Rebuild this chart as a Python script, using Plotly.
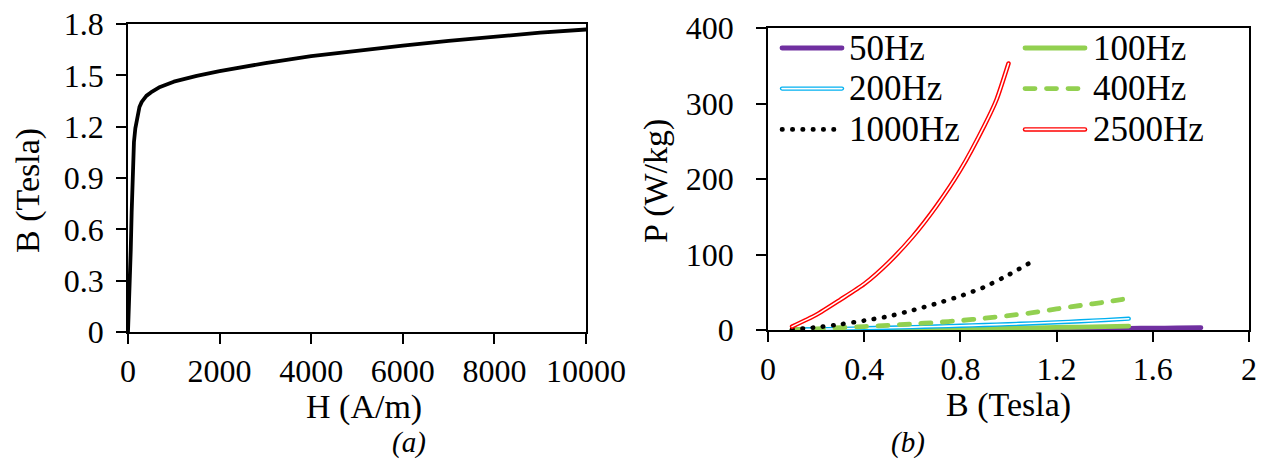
import plotly.graph_objects as go

# ---------------- data ----------------
# (a) B-H magnetisation curve
H_am = [0, 20, 40, 60, 80, 100, 130, 160, 200, 250, 300, 400, 500, 700, 1000,
        1500, 2000, 3000, 4000, 5000, 6000, 7000, 8000, 9000, 10000]
B_tesla = [0, 0.12, 0.28, 0.48, 0.70, 0.90, 1.11, 1.19, 1.26, 1.315, 1.345, 1.38, 1.40, 1.432, 1.463,
           1.497, 1.524, 1.572, 1.612, 1.645, 1.674, 1.702, 1.728, 1.749, 1.768]

# (b) core loss curves
B_50 = [0.1, 0.2, 0.3, 0.4, 0.5, 0.6, 0.7, 0.8, 0.9, 1.0, 1.1, 1.2, 1.3, 1.4, 1.5, 1.6, 1.7, 1.8]
P_50 = [0.02, 0.06, 0.12, 0.2, 0.3, 0.42, 0.55, 0.7, 0.86, 1.03, 1.22, 1.42, 1.65, 1.9, 2.15, 2.45, 2.75, 3.1]
B_100 = [0.1, 0.2, 0.3, 0.4, 0.5, 0.6, 0.7, 0.8, 0.9, 1.0, 1.1, 1.2, 1.3, 1.4, 1.5]
P_100 = [0.05, 0.15, 0.3, 0.5, 0.75, 1.0, 1.3, 1.65, 2.0, 2.4, 2.85, 3.35, 3.9, 4.5, 5.2]
B_200 = [0.1, 0.2, 0.3, 0.4, 0.5, 0.6, 0.7, 0.8, 0.9, 1.0, 1.1, 1.2, 1.3, 1.4, 1.5]
P_200 = [0.5, 1.0, 1.6, 2.3, 3.0, 3.8, 4.7, 5.6, 6.6, 7.7, 8.9, 10.2, 11.6, 13.2, 15.0]
B_400 = [0.1, 0.2, 0.3, 0.4, 0.5, 0.6, 0.7, 0.8, 0.9, 1.0, 1.1, 1.2, 1.3, 1.4, 1.5]
P_400 = [0.5, 1.5, 3.0, 4.6, 6.2, 8.0, 10.0, 12.5, 15.5, 19.0, 23.0, 28.0, 32.5, 37.0, 42.0]
B_1000 = [0.1, 0.2, 0.3, 0.4, 0.5, 0.6, 0.7, 0.8, 0.9, 1.0, 1.1]
P_1000 = [1.0, 3.5, 7.5, 12.5, 18, 26, 35, 45, 57, 73, 91]
B_2500 = [0.1, 0.2, 0.3, 0.4, 0.5, 0.6, 0.7, 0.8, 0.9, 0.95, 1.0]
P_2500 = [4.5, 20, 40, 61, 89, 123, 164, 212, 271, 305, 353]

series_names = ["50Hz", "100Hz", "200Hz", "400Hz", "1000Hz", "2500Hz"]

# ---------------- styling ----------------
W, H = 1270, 461
FONT = "Liberation Serif, Times New Roman, serif"
PURPLE = "#7030A0"
GREEN = "#92D050"
BLUE = "#00B0F0"
RED = "#FF0000"


def px(x):
    return x / W


def py(y):
    return 1 - y / H


fig = go.Figure()

# (a)
fig.add_trace(go.Scatter(x=H_am, y=B_tesla, mode="lines", line=dict(color="black", width=3.8),
                         xaxis="x", yaxis="y", showlegend=False))

# (b)  (dash patterns assume round line caps, set after drawing)
styles = {
    "50Hz": dict(color=PURPLE, width=4.8),
    "100Hz": dict(color=GREEN, width=4.8),
    "200Hz": dict(color=BLUE, width=4.3),
    "400Hz": dict(color=GREEN, width=4.8, dash="10px,11.5px"),
    "1000Hz": dict(color="black", width=4.6, dash="0.5px,9.8px"),
    "2500Hz": dict(color=RED, width=4.5),
}
data_b = {
    "50Hz": (B_50, P_50), "100Hz": (B_100, P_100), "200Hz": (B_200, P_200),
    "400Hz": (B_400, P_400), "1000Hz": (B_1000, P_1000), "2500Hz": (B_2500, P_2500),
}
double = {"200Hz", "2500Hz"}
for name in series_names:
    xs, ys = data_b[name]
    st = dict(styles[name])
    st["shape"] = "spline"
    st["smoothing"] = 0.6
    fig.add_trace(go.Scatter(x=xs, y=ys, mode="lines", line=st, name=name,
                             xaxis="x2", yaxis="y2", showlegend=False))
    if name in double:
        fig.add_trace(go.Scatter(x=xs, y=ys, mode="lines",
                                 line=dict(color="white", width=1.6, shape="spline", smoothing=0.6),
                                 xaxis="x2", yaxis="y2", showlegend=False, hoverinfo="skip"))

tickfont = dict(family=FONT, size=32, color="black")
axis_common = dict(showgrid=False, zeroline=False, showline=True, linecolor="black", linewidth=1.5,
                   mirror=True, ticks="outside", ticklen=10, tickwidth=1.5, tickcolor="black",
                   tickfont=tickfont, automargin=False)

fig.update_layout(
    width=W, height=H,
    margin=dict(l=0, r=0, t=0, b=0),
    paper_bgcolor="white", plot_bgcolor="white",
    showlegend=False,
    xaxis=dict(domain=[px(128), px(586)], range=[0, 10000], tick0=0, dtick=2000, tickformat="d",
               anchor="y", ticklabelstandoff=0, **axis_common),
    yaxis=dict(domain=[py(332), py(24)], range=[0, 1.8], tick0=0, dtick=0.3,
               anchor="x", ticklabelstandoff=6, **axis_common),
    xaxis2=dict(domain=[px(768), px(1249)], range=[0, 2], tick0=0, dtick=0.4,
                anchor="y2", ticklabelstandoff=0, **axis_common),
    yaxis2=dict(domain=[py(330), py(28)], range=[0, 400], tick0=0, dtick=100,
                anchor="x2", ticklabelstandoff=16, **axis_common),
)

title_font = dict(family=FONT, size=34, color="black")
annotations = [
    dict(text="H (A/m)", x=px(364), y=py(407)),
    dict(text="B (Tesla)", x=px(28), y=py(191), textangle=-90),
    dict(text="B (Tesla)", x=px(1008), y=py(405)),
    dict(text="P (W/kg)", x=px(656), y=py(181), textangle=-90),
]
for a in annotations:
    fig.add_annotation(xref="paper", yref="paper", xanchor="center", yanchor="middle",
                       showarrow=False, font=title_font, **a)
for txt, xc, yc in [("(a)", 409, 442), ("(b)", 908, 442)]:
    fig.add_annotation(xref="paper", yref="paper", xanchor="center", yanchor="middle", showarrow=False,
                       text=f"<i>{txt}</i>", x=px(xc), y=py(yc),
                       font=dict(family=FONT, size=29, color="black"))

# manual legend (2 columns x 3 rows)
legend_font = dict(family=FONT, size=35, color="black")
rows_y = [48, 88.6, 129.4]
cols = [(782, 842, 850), (1025, 1085, 1094)]
for i, name in enumerate(series_names):
    r, c = divmod(i, 2)
    x0, x1, xt = cols[c]
    yy = py(rows_y[r])
    st = styles[name]
    fig.add_shape(type="line", xref="paper", yref="paper", x0=px(x0), x1=px(x1), y0=yy, y1=yy,
                  line=dict(color=st["color"], width=st["width"], dash=st.get("dash", "solid")))
    if name in double:
        fig.add_shape(type="line", xref="paper", yref="paper", x0=px(x0), x1=px(x1), y0=yy, y1=yy,
                      line=dict(color="white", width=1.6))
    fig.add_annotation(xref="paper", yref="paper", xanchor="left", yanchor="middle", showarrow=False,
                       text=name, x=px(xt), y=yy, font=legend_font, xshift=-3)

post = """
document.body.style.margin='0px';
document.querySelectorAll('.scatterlayer path.js-line, .shapelayer path').forEach(function(p){
  p.style.strokeLinecap='round'; p.style.strokeLinejoin='round';
});
"""
fig.write_html("out.html", config={"displayModeBar": False}, post_script=post)
